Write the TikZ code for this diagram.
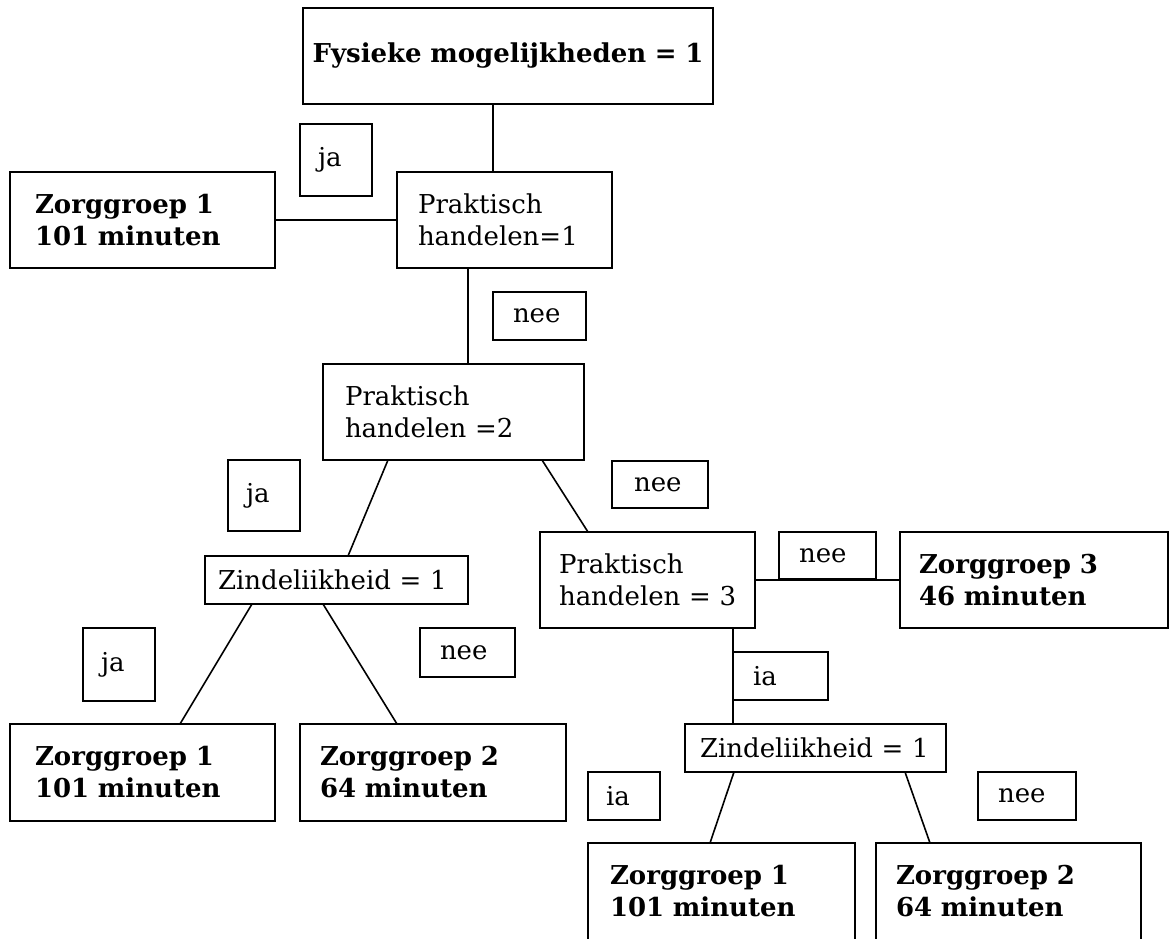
\documentclass[tikz,border=0pt]{standalone}
\usepackage{fontspec}
\setmainfont{DejaVu Serif}
\tikzset{
  box/.style={draw, line width=1.8pt, rectangle, anchor=north west, outer sep=0pt,
    inner ysep=0pt, align=left, font=\fontsize{26}{32}\selectfont},
  bbox/.style={box, font=\bfseries\fontsize{26}{32}\selectfont},
  link/.style={line width=1.6pt}
}
\begin{document}
\begin{tikzpicture}[x=1pt, y=-1pt]
\useasboundingbox (0,0) rectangle (1173,940);
% the last row is cut off by the lower edge of the page
\clip (0,0) rectangle (1173,938.5);

% decision boxes and outcomes
\node[bbox, align=center, inner xsep=2pt, text width=406pt, minimum height=96pt] (top) at (303,8) {Fysieke mogelijkheden = 1};
\node[bbox, inner xsep=25pt, text width=215pt, minimum height=96pt] (zgA) at (10,172) {Zorggroep 1\\101 minuten};
\node[box, inner xsep=21pt, text width=173pt, minimum height=96pt] (ph1) at (397,172) {Praktisch\\handelen=1};
\node[box, inner xsep=22pt, text width=217pt, minimum height=96pt] (ph2) at (323,364) {Praktisch\\handelen =2};
\node[box, inner xsep=13pt, text width=237pt, minimum height=48pt] (zi1) at (205,556) {Zindeliikheid = 1};
\node[box, inner xsep=19pt, text width=177pt, minimum height=96pt] (ph3) at (540,532) {Praktisch\\\mbox{handelen = 3}};
\node[bbox, inner xsep=19pt, text width=230pt, minimum height=96pt] (zgC) at (900,532) {Zorggroep 3\\46 minuten};
\node[bbox, inner xsep=25pt, text width=215pt, minimum height=97pt] (zgB1) at (10,724) {Zorggroep 1\\101 minuten};
\node[bbox, inner xsep=20pt, text width=226pt, minimum height=97pt] (zgB2) at (300,724) {Zorggroep 2\\64 minuten};
\node[box, inner xsep=15pt, text width=231pt, minimum height=48pt] (zi2) at (685,724) {\mbox{Zindeliikheid = 1}};
\node[bbox, inner xsep=22pt, text width=223pt, minimum height=97pt] (zgD1) at (588,843) {Zorggroep 1\\101 minuten};
\node[bbox, inner xsep=20pt, text width=225pt, minimum height=97pt] (zgD2) at (876,843) {Zorggroep 2\\64 minuten};

% answer labels
\node[box, inner xsep=18pt, text width=36pt, minimum height=72pt] (ja1) at (300,124) {ja};
\node[box, inner xsep=20pt, text width=53pt, minimum height=48pt] (nee1) at (493,292) {nee};
\node[box, inner xsep=18pt, text width=36pt, minimum height=71pt] (ja2) at (228,460) {ja};
\node[box, inner xsep=22pt, text width=52pt, minimum height=47pt] (nee2) at (612,461) {nee};
\node[box, inner xsep=20pt, text width=57pt, minimum height=47pt] (nee3) at (779,532) {nee};
\node[box, inner xsep=18pt, text width=36pt, minimum height=73pt] (ja3) at (83,628) {ja};
\node[box, inner xsep=20pt, text width=55pt, minimum height=49pt] (nee4) at (420,628) {nee};
\node[box, inner xsep=20pt, text width=55pt, minimum height=48pt] (ia1) at (733,652) {ia};
\node[box, inner xsep=18pt, text width=36pt, minimum height=48pt] (ia2) at (588,772) {ia};
\node[box, inner xsep=20pt, text width=58pt, minimum height=48pt] (nee5) at (978,772) {nee};

% connectors
\draw[link] ([xshift=-15pt]top.south) -- ([xshift=-15pt]top.south |- ph1.north);
\draw[link] (zgA.east) -- (ph1.west);
\draw[link] ([xshift=71pt]ph1.south west) -- ([xshift=71pt]ph1.south west |- ph2.north);
\draw[link] ([xshift=65pt]ph2.south west) -- ([xshift=143pt]zi1.north west);
\draw[link] ([xshift=219pt]ph2.south west) -- ([xshift=48pt]ph3.north west);
\draw[link] (ph3.east) -- (zgC.west);
\draw[link] ([xshift=-22pt]ph3.south east) -- ([xshift=-22pt]ph3.south east |- zi2.north);
\draw[link] ([xshift=47pt]zi1.south west) -- ([xshift=170pt]zgB1.north west);
\draw[link] ([xshift=118pt]zi1.south west) -- ([xshift=97pt]zgB2.north west);
\draw[link] ([xshift=49pt]zi2.south west) -- ([xshift=122pt]zgD1.north west);
\draw[link] ([xshift=220pt]zi2.south west) -- ([xshift=54pt]zgD2.north west);
\end{tikzpicture}
\end{document}
